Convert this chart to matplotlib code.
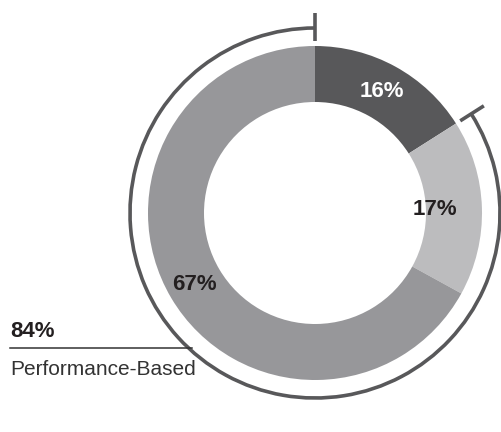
import numpy as np
import matplotlib.pyplot as plt
from matplotlib.patches import Arc

shares = [16, 17, 67]
share_labels = ['16%', '17%', '67%']
colors = ['#58585a', '#bcbcbe', '#97979a']
label_colors = ['white', '#231f20', '#231f20']
label_radius = [139, 120, 140]
bracket_total = '84%'
bracket_name = 'Performance-Based'

plt.rcParams['font.family'] = ['Liberation Sans', 'DejaVu Sans']

fig = plt.figure(figsize=(5.01, 4.32), dpi=100)
ax = fig.add_axes([0, 0, 1, 1])

cx, cy = 315, 432 - 213
r_out, ring = 167, 56

wedges, _ = ax.pie(shares, colors=colors, startangle=90, counterclock=False,
                   radius=r_out, center=(cx, cy), frame=True,
                   wedgeprops=dict(width=ring, linewidth=0))
ax.set_xlim(0, 501)
ax.set_ylim(0, 432)
ax.set_aspect('equal')
ax.axis('off')

for w, lab, c, rr in zip(wedges, share_labels, label_colors, label_radius):
    mid = np.deg2rad((w.theta1 + w.theta2) / 2)
    ax.text(cx + rr * np.cos(mid), cy + rr * np.sin(mid), lab, color=c,
            fontsize=16, fontweight='bold', ha='center', va='center')

# bracket around the performance-based share
start = wedges[0].theta1  # end of first wedge (clockwise)
r_arc = 185
ax.add_patch(Arc((cx, cy), 2 * r_arc, 2 * r_arc, theta1=90, theta2=start + 360,
                 color='#58585a', lw=2.6))
for ang in (90, start):
    a = np.deg2rad(ang)
    ax.plot([cx + 172 * np.cos(a), cx + 200 * np.cos(a)],
            [cy + 172 * np.sin(a), cy + 200 * np.sin(a)], color='#58585a', lw=2.6,
            solid_capstyle='butt')

ax.plot([10, 192], [432 - 348, 432 - 348], color='#333333', lw=1.1)
ax.text(10, 432 - 337, bracket_total, fontsize=16, fontweight='bold',
        color='#231f20', ha='left', va='baseline')
ax.text(10, 432 - 375, bracket_name, fontsize=15, color='#333333',
        ha='left', va='baseline')

plt.savefig('out.png', dpi=100)
